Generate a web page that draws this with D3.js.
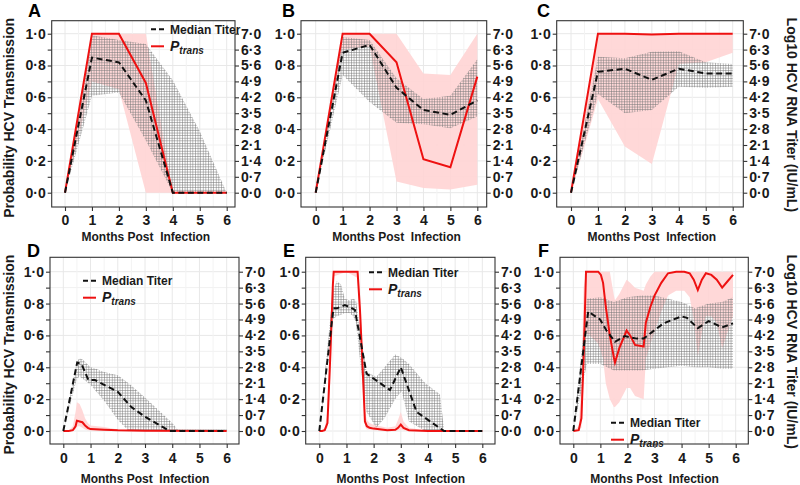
<!DOCTYPE html>
<html><head><meta charset="utf-8">
<script src="https://cdn.jsdelivr.net/npm/d3@7"></script>
<style>
body{margin:0;background:#fff;}
svg{display:block;font-family:"Liberation Sans",Arial,sans-serif;}
</style></head>
<body><svg id="chart" width="800" height="485"></svg>
<script>
// ---------- DATA ----------
const months = [0,1,2,3,4,5,6];
const xTicks = [0,1,2,3,4,5,6];
const leftTicks = [0,0.1,0.2,0.3,0.4,0.5,0.6,0.7,0.8,0.9,1.0];
const rightTicks = [0,0.7,1.4,2.1,2.8,3.5,4.2,4.9,5.6,6.3,7.0];
const panelLetters = ["A","B","C","D","E","F"];

// Panel A  (titer in log10 IU/mL, Ptrans in probability)
const aMed   = [0,5.95,5.74,4.06,0,0,0];
const aMedHi = [0,6.93,6.72,6.55,4.95,2.7,0];
const aMedLo = [0,4.27,4.41,2.3,0,0,0];
const aP     = [0,1,1,0.69,0,0,0];
const aPHi   = [0,1,1,1,0,0,0];
const aPLo   = [0,0.7,0.65,0,0,0,0];

// Panel B
const bMed   = [0,6.16,6.51,4.62,3.64,3.43,4.06];
const bMedHi = [0,6.86,6.72,5.04,4.13,4.27,5.88];
const bMedLo = [0,5.18,3.99,3.08,3.01,2.84,3.36];
const bP     = [0,1,1,0.82,0.21,0.16,0.73];
const bPHi   = [0,1,1,1,0.75,0.74,1];
const bPLo   = [0,0.9,0.92,0.07,0.03,0.02,0.05];

// Panel C
const cMed   = [0,5.32,5.46,4.97,5.46,5.25,5.25];
const cMedHi = [0,5.99,5.92,6.2,6.23,5.74,5.67];
const cMedLo = [0,4.34,3.5,3.64,4.66,4.62,4.66];
const cP     = [0,1,1,0.995,1,1,1];
const cPHi   = [0,1,1,1,1,1,1];
const cPLo   = [0,0.59,0.29,0.18,0.81,0.82,0.88];

// Panel D
const dMedX  = [0,0.51,0.67,0.92,1.16,2.0,2.5,3.0,3.9,6];
const dMed   = [0,3.01,2.94,2.24,2.24,1.72,1.05,0.63,0,0];
const dBandX = [0,0.5,0.6,0.7,1.0,1.2,1.5,2.0,2.4,3.0,3.5,4.0,4.2,6];
const dMedHi = [0,3.08,3.19,3.15,2.8,2.73,2.59,2.45,2.1,1.47,0.91,0.35,0.07,0.07];
const dMedLo = [0,2.31,2.38,2.31,2.03,1.75,1.33,0.49,0,0,0,0,0,0];
const dPX    = [0,0.2,0.35,0.45,0.5,0.6,0.7,0.8,0.9,1.0,1.5,2.0,3.0,6];
const dP     = [0,0,0.005,0.03,0.065,0.06,0.055,0.035,0.02,0.012,0.008,0.004,0.001,0];
const dPHi   = [0,0,0.03,0.12,0.18,0.17,0.13,0.08,0.05,0.035,0.025,0.01,0.002,0];
const dPLo   = [0,0,0,0.01,0.03,0.03,0.02,0.01,0.005,0.003,0.002,0.001,0,0];

// Panel E
const eMedX  = [0,0.52,0.65,0.94,1.15,1.31,1.74,2.6,3.0,3.58,4.0,4.59,6];
const eMed   = [0,5.39,5.39,5.53,5.43,5.32,2.52,1.8,2.8,0.84,0.49,0,0];
const eBandX = [0,0.5,0.64,0.8,0.94,1.1,1.25,1.35,1.56,1.74,2.1,2.4,2.79,3.03,3.3,3.9,4.44,4.6,6];
const eMedHi = [0,6.16,6.58,6.44,5.81,5.74,5.81,5.74,3.99,2.59,2.38,2.8,3.36,3.22,2.94,2.1,1.61,0,0];
const eMedLo = [0,4.9,5.04,5.11,5.18,5.18,5.04,4.76,2.45,0.84,0.14,0.56,1.4,1.75,0.42,0,0,0,0];
const ePX    = [0,0.1,0.2,0.3,0.4,0.5,0.53,1.0,1.41,1.5,1.6,1.68,1.75,1.85,2.0,2.5,2.8,2.9,3.0,3.1,3.3,4.0,6];
const eP     = [0,0,0.005,0.05,0.45,0.92,1,1,1,0.75,0.38,0.06,0.03,0.02,0.015,0.005,0.008,0.02,0.04,0.02,0.005,0,0];
const ePHi   = [0,0,0.02,0.12,0.6,1,1,1,1,0.87,0.5,0.13,0.07,0.05,0.04,0.02,0.03,0.07,0.12,0.06,0.02,0,0];
const ePLo   = [0,0,0,0.02,0.3,0.8,0.97,1,0.96,0.62,0.25,0.03,0.01,0.01,0.005,0.002,0.003,0.005,0.01,0.005,0.001,0,0];

// Panel F
const fMedX  = [0,0.55,0.99,1.23,1.54,1.9,2.34,2.6,3.33,4.0,4.2,4.6,5.0,5.5,5.9];
const fMed   = [0,5.25,4.9,4.41,3.92,4.17,4.06,4.06,4.73,5.04,4.97,4.52,4.83,4.55,4.73];
const fBandX = [0,0.5,1.0,1.5,2.0,2.5,3.0,3.5,4.0,4.5,5.0,5.5,5.9];
const fMedHi = [0,5.81,5.88,5.67,5.88,5.95,5.95,5.81,5.67,5.39,5.6,5.67,5.88];
const fMedLo = [0,2.94,2.94,2.66,2.66,2.66,2.73,2.8,2.87,2.8,2.8,2.73,2.73];
const fPX    = [0,0.2,0.3,0.38,0.47,0.6,0.92,1.02,1.1,1.2,1.35,1.5,1.54,1.7,1.97,2.1,2.28,2.6,2.68,2.85,3.0,3.25,3.5,3.8,4.1,4.3,4.45,4.6,4.75,4.9,5.1,5.3,5.5,5.7,5.9];
const fP     = [0,0.005,0.08,0.45,1,1,1,0.98,0.93,0.78,0.6,0.46,0.43,0.52,0.63,0.6,0.54,0.53,0.68,0.78,0.85,0.93,0.99,1,1,0.99,0.95,0.885,0.95,0.99,0.98,0.95,0.9,0.94,0.98];
const fPHi   = [0,0.03,0.3,0.9,1,1,1,1,1,1,1,0.85,0.82,0.86,0.95,0.93,0.9,0.88,0.92,0.97,1,1,1,1,1,1,1,1,1,1,1,1,1,1,1];
const fPLo   = [0,0,0.02,0.3,0.62,0.6,0.55,0.5,0.45,0.3,0.2,0.15,0.15,0.18,0.27,0.27,0.22,0.2,0.45,0.55,0.62,0.75,0.85,0.88,0.88,0.84,0.7,0.47,0.62,0.72,0.72,0.68,0.52,0.62,0.72];

// ---------- LAYOUT ----------
const panels = [
 {L:"A", box:[51.7,20.7,235,207], xr:[65,226.7], yr:[192.7,33.7], letter:[28,17], tPad:4, titleOff:33.5,
  medX:months, med:aMed, bandX:months, hi:aMedHi, lo:aMedLo, pX:months, p:aP, pHi:aPHi, pLo:aPLo,
  legend:{x:151,y:29.3}, leftTitle:true},
 {L:"B", box:[301,20.7,486.7,207], xr:[315.7,477.3], yr:[192.7,33.7], letter:[282,17], tPad:4, titleOff:33.5,
  medX:months, med:bMed, bandX:months, hi:bMedHi, lo:bMedLo, pX:months, p:bP, pHi:bPHi, pLo:bPLo},
 {L:"C", box:[556.7,20.7,743.3,207], xr:[571,732.7], yr:[192.7,33.7], letter:[537,17], tPad:4, titleOff:33.5,
  medX:months, med:cMed, bandX:months, hi:cMedHi, lo:cMedLo, pX:months, p:cP, pHi:cPHi, pLo:cPLo, rightTitle:true},
 {L:"D", box:[50,257.3,239,444], xr:[63.3,226.7], yr:[431,271.7], letter:[27,257], tPad:5, titleOff:39,
  medX:dMedX, med:dMed, bandX:dBandX, hi:dMedHi, lo:dMedLo, pX:dPX, p:dP, pHi:dPHi, pLo:dPLo,
  legend:{x:83,y:280.7}, leftTitle:true},
 {L:"E", box:[305.7,257.3,495,444], xr:[319.3,482.3], yr:[431,271.7], letter:[283,257], tPad:5, titleOff:39,
  medX:eMedX, med:eMed, bandX:eBandX, hi:eMedHi, lo:eMedLo, pX:ePX, p:eP, pHi:ePHi, pLo:ePLo,
  legend:{x:369,y:272.3}},
 {L:"F", box:[560,257.3,748.3,444], xr:[573.3,735.7], yr:[431,271.7], letter:[538,257], tPad:5, titleOff:39,
  medX:fMedX, med:fMed, bandX:fBandX, hi:fMedHi, lo:fMedLo, pX:fPX, p:fP, pHi:fPHi, pLo:fPLo,
  legend:{x:611,y:422.7}, rightTitle:true}
];

const svg = d3.select("#chart");
const defs = svg.append("defs");
const pat = defs.append("pattern").attr("id","hatch").attr("width",2.6).attr("height",2.6)
  .attr("patternUnits","userSpaceOnUse");
pat.append("path").attr("d","M0,0.3H2.6M0.3,0V2.6").attr("stroke","#7a7a7a").attr("stroke-width",0.65)
  .attr("stroke-opacity",0.95).attr("fill","none");

const fmt = d => d3.format(".1f")(d).replace(".", "\u00B7");
const RED = "#ee1111";

panels.forEach((P,i) => {
  const [bx0,by0,bx1,by1] = P.box;
  const x = d3.scaleLinear().domain([0,6]).range(P.xr);
  const yL = d3.scaleLinear().domain([0,1]).range(P.yr);
  const yR = d3.scaleLinear().domain([0,7]).range(P.yr);
  const g = svg.append("g");
  const clipId = "clip"+i;
  defs.append("clipPath").attr("id",clipId).append("rect")
    .attr("x",bx0).attr("y",by0).attr("width",bx1-bx0).attr("height",by1-by0);

  // grid
  const grid = g.append("g");
  leftTicks.forEach((t,k) => {
    grid.append("line").attr("x1",bx0).attr("x2",bx1).attr("y1",yL(t)).attr("y2",yL(t))
      .attr("stroke", k%2===0 ? "#e8e8e8" : "#f1f1f1").attr("stroke-width",1);
  });
  d3.range(0,6.5,0.5).forEach(t => {
    const major = Number.isInteger(t);
    grid.append("line").attr("y1",by0).attr("y2",by1).attr("x1",x(t)).attr("x2",x(t))
      .attr("stroke", major ? "#e8e8e8" : "#f3f3f3").attr("stroke-width",1);
  });

  const plot = g.append("g").attr("clip-path",`url(#${clipId})`);
  // Ptrans band
  const pBand = P.pX.map((v,k)=>({x:v, lo:P.pLo[k], hi:P.pHi[k]}));
  plot.append("path").datum(pBand)
    .attr("d", d3.area().x(d=>x(d.x)).y0(d=>yL(d.lo)).y1(d=>yL(d.hi)))
    .attr("fill","#ffd4d4").attr("fill-opacity",0.9);
  // titer band (hatched)
  const tBand = P.bandX.map((v,k)=>({x:v, lo:P.lo[k], hi:P.hi[k]}));
  plot.append("path").datum(tBand)
    .attr("d", d3.area().x(d=>x(d.x)).y0(d=>yR(d.lo)).y1(d=>yR(d.hi)))
    .attr("fill","url(#hatch)");
  // Ptrans line
  plot.append("path").datum(P.pX.map((v,k)=>[v,P.p[k]]))
    .attr("d", d3.line().x(d=>x(d[0])).y(d=>yL(d[1])))
    .attr("fill","none").attr("stroke",RED).attr("stroke-width",2);
  // median titer dashed
  plot.append("path").datum(P.medX.map((v,k)=>[v,P.med[k]]))
    .attr("d", d3.line().x(d=>x(d[0])).y(d=>yR(d[1])))
    .attr("fill","none").attr("stroke","#111").attr("stroke-width",2).attr("stroke-dasharray","6,3.5");

  // box
  g.append("rect").attr("x",bx0).attr("y",by0).attr("width",bx1-bx0).attr("height",by1-by0)
    .attr("fill","none").attr("stroke","#333").attr("stroke-width",1.1);

  // axes
  const axL = g.append("g").attr("transform",`translate(${bx0},0)`)
    .call(d3.axisLeft(yL).tickValues(leftTicks).tickSize(4).tickPadding(2)
      .tickFormat((d,k)=> k%2===0 ? fmt(d) : ""));
  const axR = g.append("g").attr("transform",`translate(${bx1},0)`)
    .call(d3.axisRight(yR).tickValues(rightTicks).tickSize(4).tickPadding(2).tickFormat(fmt));
  const axB = g.append("g").attr("transform",`translate(0,${by1})`)
    .call(d3.axisBottom(x).tickValues(xTicks).tickSize(4).tickPadding(P.tPad).tickFormat(d3.format("d")));
  [axL,axR,axB].forEach(a=>{
    a.select(".domain").remove();
    a.selectAll(".tick line").attr("stroke","#333").attr("stroke-width",1.1);
    a.selectAll(".tick text").attr("fill","#1a1a1a").attr("font-size",14).attr("font-weight","bold")
      .attr("font-family",'"Liberation Sans",Arial,sans-serif');
  });

  // x title
  g.append("text").attr("x",(P.xr[0]+P.xr[1])/2).attr("y",by1+P.titleOff)
    .attr("text-anchor","middle").attr("font-size",12).attr("font-weight","bold").attr("fill","#1a1a1a")
    .text("Months Post\u00A0 Infection");

  // panel letter
  g.append("text").attr("x",P.letter[0]).attr("y",P.letter[1]).attr("font-size",18)
    .attr("font-weight","bold").attr("fill","#000").text(P.L);

  if (P.leftTitle) {
    g.append("text").attr("transform",`translate(14,${(by0+by1)/2+4}) rotate(-90)`)
      .attr("text-anchor","middle").attr("font-size",14).attr("font-weight","bold").attr("fill","#1a1a1a")
      .text("Probability HCV Transmission");
  }
  if (P.rightTitle) {
    g.append("text").attr("transform",`translate(787,${(by0+by1)/2+1}) rotate(90)`)
      .attr("text-anchor","middle").attr("font-size",14).attr("font-weight","bold").attr("fill","#1a1a1a")
      .text("Log10 HCV RNA Titer (IU/mL)");
  }

  if (P.legend) {
    const lg = g.append("g").attr("transform",`translate(${P.legend.x},${P.legend.y})`);
    lg.append("line").attr("x1",0).attr("x2",13).attr("y1",0).attr("y2",0)
      .attr("stroke","#111").attr("stroke-width",2).attr("stroke-dasharray","5,3");
    lg.append("text").attr("x",19).attr("y",4.5).attr("font-size",12).attr("font-weight","bold")
      .attr("fill","#1a1a1a").text("Median Titer");
    lg.append("line").attr("x1",0).attr("x2",13).attr("y1",17).attr("y2",17)
      .attr("stroke",RED).attr("stroke-width",2);
    const t = lg.append("text").attr("x",19).attr("y",21.5).attr("font-size",14).attr("font-weight","bold")
      .attr("font-style","italic").attr("fill","#1a1a1a");
    t.append("tspan").text("P");
    t.append("tspan").attr("font-size",10).attr("dy",3).text("trans");
  }
});
</script></body></html>
